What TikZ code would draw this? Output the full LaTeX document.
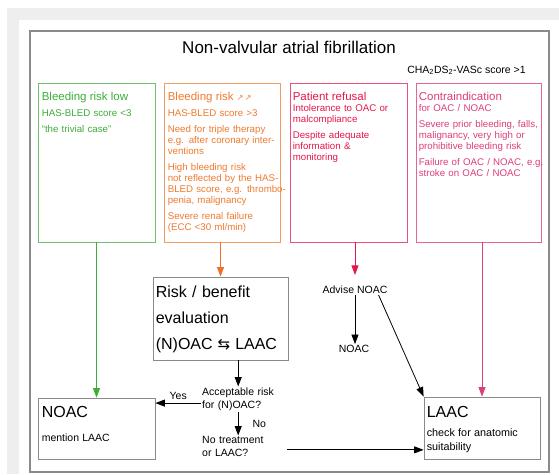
\documentclass[tikz,border=0pt]{standalone}
\usepackage{fontspec}
\setmainfont{Liberation Sans}
\newfontfamily\symfont{DejaVu Sans}
\usetikzlibrary{arrows.meta}

\definecolor{afgreen}{HTML}{3DAE3A}
\definecolor{aforange}{HTML}{F07A2E}
\definecolor{afred}{HTML}{E5174A}
\definecolor{afpink}{HTML}{DD3E7C}
\definecolor{afframe}{HTML}{8A8A8A}
\definecolor{afback}{HTML}{EEEEEE}

\newcommand{\boxhead}[1]{{\fontsize{11.5}{13}\selectfont #1\par}}
\newcommand{\bighead}[1]{{\fontsize{16}{19}\selectfont #1\par}}

\tikzset{
  panel/.style={draw, line width=0.8pt, inner sep=0pt},
  paneltext/.style={anchor=north west, inner sep=0pt, text width=140pt, align=left,
    font=\fontsize{9.7}{11}\selectfont},
  flowtext/.style={inner sep=1pt, font=\fontsize{10.5}{13}\selectfont},
  arr/.style={line width=0.8pt, -{Triangle[length=9.5pt,width=7pt]}}
}

\begin{document}
\begin{tikzpicture}[x=1pt, y=-1pt]
  \useasboundingbox (0,0) rectangle (559,474);
  \fill[afback] (7,8) rectangle (559,474);
  \fill[white] (19,20) rectangle (559,474);
  \draw[afframe, line width=1.2pt] (30,31) rectangle (549,472);

  \node[anchor=base, inner sep=0pt, font=\fontsize{17}{20}\selectfont] (title) at (289,53)
    {Non-valvular atrial fibrillation};
  \node[anchor=base, inner sep=0pt, font=\fontsize{10.5}{13}\selectfont] (score) at (466.5,73)
    {CHA\textsubscript{2}DS\textsubscript{2}-VASc score >1};

  % indication boxes
  \node[panel, draw=afgreen!75, minimum width=117pt, minimum height=159pt] (green) at (96.5,162.5) {};
  \node[panel, draw=aforange!75, minimum width=116pt, minimum height=159pt] (orange) at (222,162.5) {};
  \node[panel, draw=afred!75, minimum width=117pt, minimum height=159pt] (red) at (348.5,162.5) {};
  \node[panel, draw=afpink!80, minimum width=125pt, minimum height=159pt] (pink) at (478.5,162.5) {};

  \node[paneltext, text=afgreen] (greentext) at ([xshift=4pt, yshift=-9.5pt]green.north west)
    {\boxhead{Bleeding risk low}\vspace{5pt}
     HAS-BLED score <3\par\vspace{5pt}
     “the trivial case”};
  \node[paneltext, text=aforange] (orangetext) at ([xshift=4pt, yshift=-9.5pt]orange.north west)
    {\boxhead{Bleeding risk {\symfont\fontsize{8}{8}\selectfont ↗\,↗}}\vspace{5pt}
     HAS-BLED score >3\par\vspace{5pt}
     Need for triple therapy\\e.g. after coronary inter-\\ventions\par\vspace{5pt}
     High bleeding risk\\not reflected by the HAS-\\BLED score, e.g. thrombo-\\penia, malignancy\par\vspace{5pt}
     Severe renal failure\\(ECC <30 ml/min)};
  \node[paneltext, text=afred] (redtext) at ([xshift=3pt, yshift=-9.5pt]red.north west)
    {\boxhead{Patient refusal}
     Intolerance to OAC or\\malcompliance\par\vspace{5pt}
     Despite adequate\\information \&\\monitoring};
  \node[paneltext, text=afpink] (pinktext) at ([xshift=3pt, yshift=-9.5pt]pink.north west)
    {\boxhead{Contraindication}
     for OAC / NOAC\par\vspace{5pt}
     Severe prior bleeding, falls,\\malignancy, very high or\\prohibitive bleeding risk\par\vspace{5pt}
     Failure of OAC / NOAC, e.g.\\stroke on OAC / NOAC};

  % decision boxes
  \node[panel, draw=afframe, minimum width=135pt, minimum height=83pt] (risk) at (220.5,318.5) {};
  \node[paneltext, font=\fontsize{16}{26}\selectfont] (risktext) at ([xshift=3pt, yshift=-9.3pt]risk.north west)
    {Risk / benefit\\evaluation\\(N)OAC\hspace{5pt}{\symfont\fontsize{15}{15}\selectfont ⇆}\hspace{5pt}LAAC};
  \node[panel, draw=afframe, minimum width=117pt, minimum height=61pt] (noac) at (96.5,428.5) {};
  \node[paneltext] (noactext) at ([xshift=4pt, yshift=-8.5pt]noac.north west)
    {\bighead{NOAC}\vspace{5pt}{\fontsize{10.5}{19}\selectfont mention LAAC\par}};
  \node[panel, draw=afframe, minimum width=116pt, minimum height=62pt] (laac) at (482,428) {};
  \node[paneltext] (laactext) at ([xshift=3pt, yshift=-9.5pt]laac.north west)
    {\bighead{LAAC}\vspace{5pt}{\fontsize{10.8}{14}\selectfont check for anatomic\\suitability\par}};

  \node[flowtext, anchor=north west, text width=72pt, align=left] (accept) at (201,386.5)
    {Acceptable risk\\for (N)OAC?};
  \node[flowtext, anchor=north west, text width=72pt, align=left] (notreat) at (201,435.5)
    {No treatment\\or LAAC?};
  \node[flowtext] (advise) at (355,290) {Advise NOAC};
  \node[flowtext] (noacadv) at (354,349) {NOAC};

  % connectors
  \draw[arr, afgreen] (noac.north |- green.south) -- (noac.north);
  \draw[arr, aforange!90!red] (risk.north |- orange.south) -- (risk.north);
  \draw[arr, afred] (advise.north |- red.south) -- ([yshift=10pt]advise.north);
  \draw[arr, afpink] (laac.north |- pink.south) -- (laac.north);

  \draw[arr] (risk.south -| accept.north) -- (accept.north);
  \coordinate (yesstart) at ([yshift=-4pt]accept.west);
  \draw[arr] (yesstart) -- node[flowtext, above=2pt] {Yes} (yesstart -| noac.east);
  \draw[arr] (accept.south) -- node[flowtext, right=13pt] {No} (notreat.north);
  \coordinate (nostart) at ([xshift=12pt, yshift=-3pt]notreat.east);
  \draw[arr] (nostart) -- (nostart -| laac.west);
  \draw[arr] (advise.south) -- (advise.south |- noacadv.north);
  \draw[arr] ([xshift=-10pt]advise.south east) -- (laac.north west);
\end{tikzpicture}
\end{document}
